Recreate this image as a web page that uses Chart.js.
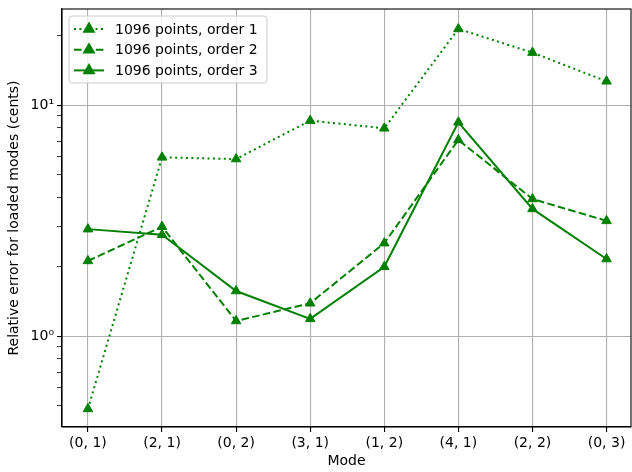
<!DOCTYPE html>
<html>
<head>
<meta charset="utf-8">
<script src="https://cdn.jsdelivr.net/npm/chart.js@4"></script>
<style>
  html, body { margin: 0; padding: 0; background: #fff; }
  #wrap { width: 632px; height: 472px; }
</style>
</head>
<body>
<div id="wrap"><canvas id="graph" width="632" height="472"></canvas></div>
<script>
var modes = ['(0, 1)', '(2, 1)', '(0, 2)', '(3, 1)', '(1, 2)', '(4, 1)', '(2, 2)', '(0, 3)'];
var order1 = [0.485, 5.95, 5.85, 8.58, 7.95, 21.4, 16.9, 12.7];
var order2 = [2.12, 2.98, 1.165, 1.39, 2.53, 7.08, 3.93, 3.16];
var order3 = [2.91, 2.75, 1.57, 1.19, 2.0, 8.44, 3.56, 2.16];
var seriesNames = ['1096 points, order 1', '1096 points, order 2', '1096 points, order 3'];
var yMajor = [1, 10];
var yMinor = [0.5, 0.6, 0.7, 0.8, 0.9, 2, 3, 4, 5, 6, 7, 8, 9, 20];

var green = '#008000';
var dashes = [[2, 3.4], [7.6, 3.3], []];
var font = { family: 'DejaVu Sans', size: 14 };

Chart.defaults.color = '#000';
Chart.defaults.font.family = 'DejaVu Sans';
Chart.defaults.font.size = 14;

function toPoints(arr) {
  var pts = [];
  for (var i = 0; i < arr.length; i++) {
    pts.push({ x: i, y: arr[i] });
  }
  return pts;
}

var datasets = [order1, order2, order3].map(function (arr, i) {
  return {
    label: seriesNames[i],
    data: toPoints(arr),
    borderColor: green,
    backgroundColor: green,
    borderWidth: 2,
    borderDash: dashes[i],
    pointStyle: 'triangle',
    pointRadius: 5.5,
    pointBorderWidth: 1,
    pointBackgroundColor: green,
    pointBorderColor: green,
    tension: 0
  };
});

// box around the plot + legend inside the axes
var boxPlugin = {
  id: 'box',
  afterDraw: function (chart) {
    var ctx = chart.ctx;
    var a = chart.chartArea;
    ctx.save();
    ctx.strokeStyle = '#000';
    ctx.lineWidth = 1.1;
    ctx.setLineDash([]);
    ctx.strokeRect(a.left, a.top, a.right - a.left, a.bottom - a.top);

    // legend
    var bx = a.left + 7, by = a.top + 7, bw = 198, bh = 67;
    ctx.beginPath();
    ctx.roundRect(bx, by, bw, bh, 3);
    ctx.fillStyle = 'rgba(255,255,255,0.8)';
    ctx.fill();
    ctx.strokeStyle = '#cccccc';
    ctx.lineWidth = 1;
    ctx.stroke();

    ctx.font = '14px "DejaVu Sans"';
    ctx.textBaseline = 'middle';
    for (var i = 0; i < seriesNames.length; i++) {
      var ry = by + 13 + i * 20.7;
      ctx.beginPath();
      ctx.setLineDash(dashes[i]);
      ctx.strokeStyle = green;
      ctx.lineWidth = 2;
      ctx.moveTo(bx + 5, ry);
      ctx.lineTo(bx + 35, ry);
      ctx.stroke();
      ctx.setLineDash([]);
      Chart.helpers.drawPoint(ctx, { pointStyle: 'triangle', radius: 5.5, borderWidth: 1 }, bx + 20, ry);
      ctx.fillStyle = green;
      ctx.fill();
      ctx.fillStyle = '#000';
      ctx.fillText(seriesNames[i], bx + 46, ry + 1);
    }
    ctx.restore();
  }
};

var lineCanvas = document.getElementById('graph').getContext('2d');
var lineGraph = new Chart(lineCanvas, {
  type: 'line',
  data: { datasets: datasets },
  plugins: [boxPlugin],
  options: {
    responsive: false,
    animation: false,
    layout: { autoPadding: false, padding: { left: 0, right: 1, top: 9, bottom: 1 } },
    plugins: { legend: { display: false }, tooltip: { enabled: false } },
    scales: {
      x: {
        type: 'linear',
        min: -0.35,
        max: 7.33,
        afterBuildTicks: function (scale) {
          scale.ticks = modes.map(function (m, i) { return { value: i }; });
        },
        afterFit: function (scale) {
          scale.height = 44;
          scale.paddingLeft = 0;
          scale.paddingRight = 0;
        },
        ticks: {
          autoSkip: false,
          maxRotation: 0,
          padding: 3,
          callback: function (v) { return modes[v]; }
        },
        grid: { color: '#b0b0b0', lineWidth: 1.1, tickColor: '#000', tickLength: 5 },
        border: { color: '#000', width: 1.1 },
        title: { display: true, text: 'Mode', font: font, padding: { top: 0, bottom: 1 } }
      },
      y: {
        type: 'logarithmic',
        min: 0.405,
        max: 26.1,
        bounds: 'data',
        afterBuildTicks: function (scale) {
          var t = [];
          yMinor.forEach(function (v) { t.push({ value: v, major: false }); });
          yMajor.forEach(function (v) { t.push({ value: v, major: true }); });
          t.sort(function (p, q) { return p.value - q.value; });
          scale.ticks = t;
        },
        afterFit: function (scale) {
          scale.width = 62;
          scale.paddingTop = 0;
          scale.paddingBottom = 0;
        },
        ticks: {
          autoSkip: false,
          padding: 3,
          callback: function (v) {
            if (v === 1) return '10\u2070';
            if (v === 10) return '10\u00b9';
            return '';
          }
        },
        grid: {
          color: function (c) { return c.tick && c.tick.major ? '#b0b0b0' : 'rgba(0,0,0,0)'; },
          lineWidth: 1.1,
          tickColor: '#000',
          tickLength: 5,
          tickWidth: function (c) { return c.tick && c.tick.major ? 1.1 : 0.8; }
        },
        border: { color: '#000', width: 1.1 },
        title: { display: true, text: 'Relative error for loaded modes (cents)', font: font, padding: { top: 6, bottom: 0 } }
      }
    }
  }
});
</script>
</body>
</html>
